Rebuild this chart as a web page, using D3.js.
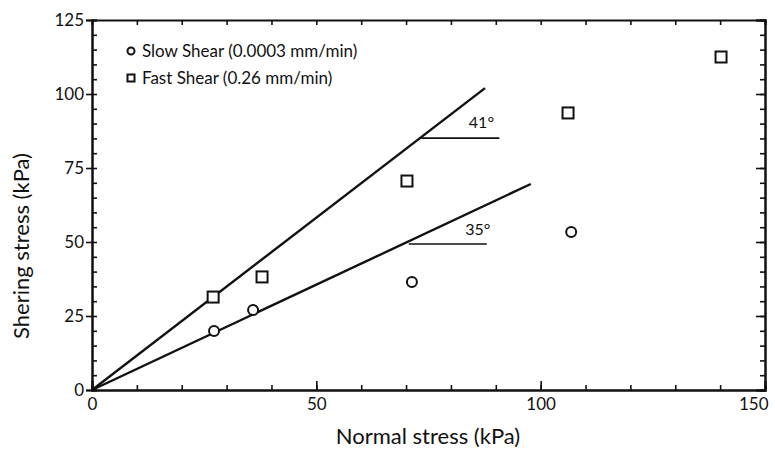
<!DOCTYPE html>
<html>
<head>
<meta charset="utf-8">
<script src="https://cdn.jsdelivr.net/npm/d3@7"></script>
<style>
  body { margin: 0; background: #fff; }
  text { font-family: Lato, "Open Sans", sans-serif; fill: #111; }
</style>
</head>
<body>
<div id="container"></div>
<script>
"use strict";

// Data.
const slowStress = [27.2, 35.9, 71.3, 106.8];
const slowShear = [19.9, 27.0, 36.5, 53.4];
const fastStress = [27.0, 37.9, 70.2, 106.1, 140.2];
const fastShear = [31.4, 38.2, 70.6, 93.6, 112.5];

// Envelope lines from the origin: [end stress, end shear].
const fastLine = [[0, 0], [87.6, 102]];
const slowLine = [[0, 0], [97.8, 69.6]];

// Angle markers: horizontal from x0 to x1 at y, label at lx, ly.
const angleMarks = [
  { x0: 73.4, x1: 90.8, y: 85.1, label: "41°", lx: 86.8, ly: 88.5 },
  { x0: 70.6, x1: 88.0, y: 49.3, label: "35°", lx: 86.0, ly: 52.5 }
];

const xTicks = [0, 50, 100, 150];
const yTicks = [0, 25, 50, 75, 100, 125];

const width = 775;
const height = 457;
const margin = { top: 20, right: 10, bottom: 67, left: 92 };

const x = d3.scaleLinear().domain([0, 150]).range([margin.left, width - margin.right]);
const y = d3.scaleLinear().domain([0, 125]).range([height - margin.bottom, margin.top]);

const svg = d3.select("#container").append("svg")
  .attr("width", width)
  .attr("height", height);

// Minor ticks, all inward.
const minorX = d3.range(0, 151, 10);
const minorY = d3.range(0, 126, 5);

svg.append("g")
  .attr("transform", `translate(0, ${y(0)})`)
  .call(d3.axisBottom(x).tickValues(minorX).tickSize(-5).tickFormat(""));
svg.append("g")
  .attr("transform", `translate(0, ${y(125)})`)
  .call(d3.axisTop(x).tickValues(minorX).tickSize(-5).tickFormat(""));
svg.append("g")
  .attr("transform", `translate(${x(0)}, 0)`)
  .call(d3.axisLeft(y).tickValues(minorY).tickSize(-5).tickFormat(""));
svg.append("g")
  .attr("transform", `translate(${x(150)}, 0)`)
  .call(d3.axisRight(y).tickValues(minorY).tickSize(-5).tickFormat(""));

// Major ticks with labels.
const xAxisG = svg.append("g")
  .attr("class", "xaxis")
  .attr("transform", `translate(0, ${y(0)})`)
  .call(d3.axisBottom(x).tickValues(xTicks).tickSize(-9).tickPadding(8).tickFormat(d3.format("d")));
svg.append("g")
  .attr("class", "yaxis")
  .attr("transform", `translate(${x(0)}, 0)`)
  .call(d3.axisLeft(y).tickValues(yTicks).tickSize(6).tickPadding(2).tickFormat(d3.format("d")));
svg.append("g")
  .attr("transform", `translate(${x(150)}, 0)`)
  .call(d3.axisRight(y).tickValues(yTicks).tickSize(-9).tickFormat(""));

svg.selectAll(".domain").attr("stroke", "#111").attr("stroke-width", 2);
svg.selectAll(".tick line").attr("stroke", "#111").attr("stroke-width", 1.6);
svg.selectAll(".xaxis text, .yaxis text")
  .style("font-size", "17px")
  .style("font-family", "Lato, sans-serif")
  .attr("fill", "#111");
// Last x label sits flush with the right edge, as in the original.
xAxisG.selectAll(".tick text")
  .filter((d) => d === 150)
  .attr("text-anchor", "end")
  .attr("dx", 3);

// Envelope lines.
const line = d3.line().x((d) => x(d[0])).y((d) => y(d[1]));
[fastLine, slowLine].forEach((pts) => {
  svg.append("path")
    .attr("d", line(pts))
    .attr("fill", "none")
    .attr("stroke", "#111")
    .attr("stroke-width", 2.4);
});

// Angle markers.
angleMarks.forEach((m) => {
  svg.append("line")
    .attr("x1", x(m.x0)).attr("x2", x(m.x1))
    .attr("y1", y(m.y)).attr("y2", y(m.y))
    .attr("stroke", "#111")
    .attr("stroke-width", 1.6);
  svg.append("text")
    .attr("x", x(m.lx))
    .attr("y", y(m.ly))
    .attr("text-anchor", "middle")
    .style("font-size", "16px")
    .text(m.label);
});

// Slow shear: circles.
svg.selectAll(".slow")
  .data(d3.zip(slowStress, slowShear))
  .enter()
  .append("circle")
  .attr("class", "slow")
  .attr("cx", (d) => x(d[0]))
  .attr("cy", (d) => y(d[1]))
  .attr("r", 5)
  .attr("fill", "#fff")
  .attr("stroke", "#111")
  .attr("stroke-width", 2);

// Fast shear: squares.
const sq = 11;
svg.selectAll(".fast")
  .data(d3.zip(fastStress, fastShear))
  .enter()
  .append("rect")
  .attr("class", "fast")
  .attr("x", (d) => x(d[0]) - sq / 2)
  .attr("y", (d) => y(d[1]) - sq / 2)
  .attr("width", sq)
  .attr("height", sq)
  .attr("fill", "#fff")
  .attr("stroke", "#111")
  .attr("stroke-width", 2);

// Legend.
const legend = svg.append("g").attr("transform", "translate(131, 51)");
legend.append("circle")
  .attr("cx", 0).attr("cy", 0).attr("r", 3.5)
  .attr("fill", "#fff").attr("stroke", "#111").attr("stroke-width", 2);
legend.append("text")
  .attr("x", 11).attr("y", 6)
  .style("font-size", "17px")
  .text("Slow Shear (0.0003 mm/min)");
legend.append("rect")
  .attr("x", -3.5).attr("y", 23.5).attr("width", 7).attr("height", 7)
  .attr("fill", "#fff").attr("stroke", "#111").attr("stroke-width", 2);
legend.append("text")
  .attr("x", 11).attr("y", 33)
  .style("font-size", "17px")
  .text("Fast Shear (0.26 mm/min)");

// Axis titles.
svg.append("text")
  .attr("x", 428)
  .attr("y", 444)
  .attr("text-anchor", "middle")
  .style("font-size", "22px")
  .text("Normal stress (kPa)");
svg.append("text")
  .attr("transform", "translate(29, 246) rotate(-90)")
  .attr("text-anchor", "middle")
  .style("font-size", "22px")
  .text("Shering stress (kPa)");
</script>
</body>
</html>
